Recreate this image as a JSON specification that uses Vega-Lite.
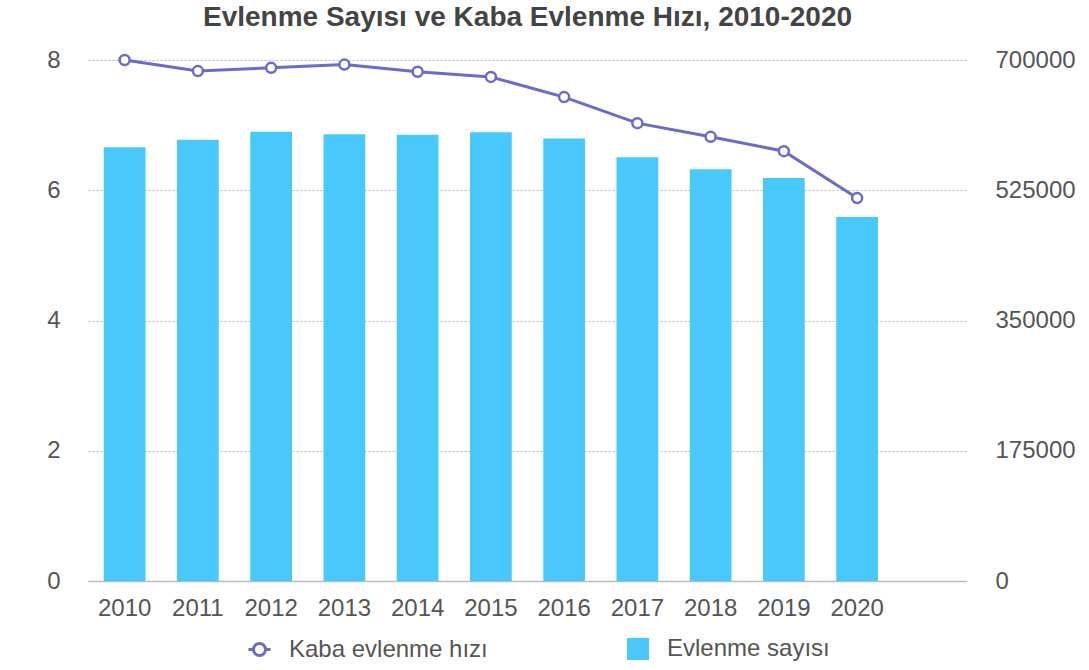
{
  "$schema": "https://vega.github.io/schema/vega-lite/v6.json",
  "width": 879,
  "height": 521,
  "autosize": {"type": "none"},
  "padding": {"left": 88, "top": 60, "right": 122, "bottom": 89},
  "background": "white",
  "config": {
    "font": "Liberation Sans",
    "view": {"stroke": null},
    "axis": {"labelFont": "Liberation Sans", "labelColor": "#555555", "labelFontSize": 24, "titleFontSize": 0}
  },
  "title": {
    "text": "Evlenme Sayısı ve Kaba Evlenme Hızı, 2010-2020",
    "font": "Liberation Sans",
    "fontSize": 28,
    "fontWeight": "bold",
    "color": "#444444",
    "anchor": "middle",
    "offset": 16
  },
  "data": {
    "values": [
      {"year": "2010", "rate": 8.00, "count": 582715},
      {"year": "2011", "rate": 7.83, "count": 592775},
      {"year": "2012", "rate": 7.88, "count": 603751},
      {"year": "2013", "rate": 7.93, "count": 600138},
      {"year": "2014", "rate": 7.82, "count": 599704},
      {"year": "2015", "rate": 7.74, "count": 602982},
      {"year": "2016", "rate": 7.43, "count": 594493},
      {"year": "2017", "rate": 7.03, "count": 569459},
      {"year": "2018", "rate": 6.82, "count": 553202},
      {"year": "2019", "rate": 6.60, "count": 541424},
      {"year": "2020", "rate": 5.88, "count": 488954}
    ]
  },
  "encoding": {
    "x": {
      "field": "year",
      "type": "nominal",
      "sort": null,
      "scale": {
        "domain": ["2010", "2011", "2012", "2013", "2014", "2015", "2016", "2017", "2018", "2019", "2020", " "],
        "paddingInner": 0.43,
        "paddingOuter": 0.215
      },
      "axis": {
        "title": null,
        "labelAngle": 0,
        "ticks": false,
        "tickSize": 0,
        "labelPadding": 15,
        "domain": true,
        "domainColor": "#bbbbbb",
        "domainWidth": 1.5,
        "grid": false
      }
    }
  },
  "layer": [
    {
      "mark": {"type": "bar"},
      "encoding": {
        "y": {
          "field": "count",
          "type": "quantitative",
          "scale": {"domain": [0, 700000], "nice": false},
          "axis": {
            "orient": "right",
            "title": null,
            "values": [0, 175000, 350000, 525000, 700000],
            "format": "d",
            "ticks": false,
            "tickSize": 0,
            "domain": false,
            "grid": false,
            "labelPadding": 28
          }
        },
        "fill": {
          "datum": "Evlenme sayısı",
          "type": "nominal",
          "scale": {"domain": ["Evlenme sayısı"], "range": ["#49c9fb"]},
          "legend": {
            "title": null,
            "orient": "none",
            "direction": "horizontal",
            "legendX": 538,
            "legendY": 577,
            "padding": 0,
            "labelFont": "Liberation Sans",
            "labelFontSize": 24,
            "labelColor": "#555555",
            "labelOffset": 17,
            "labelLimit": 400,
            "symbolType": "square",
            "symbolSize": 484,
            "symbolStrokeWidth": 0
          }
        }
      }
    },
    {
      "layer": [
        {
          "mark": {"type": "line", "strokeWidth": 3},
          "encoding": {
            "y": {
              "field": "rate",
              "type": "quantitative",
              "scale": {"domain": [0, 8], "nice": false},
              "axis": {
                "orient": "left",
                "title": null,
                "values": [0, 2, 4, 6, 8],
                "format": "d",
                "ticks": false,
                "tickSize": 0,
                "domain": false,
                "grid": true,
                "gridColor": "#b4b4b4",
                "gridDash": [2, 2],
                "gridWidth": 1,
                "labelPadding": 28
              }
            },
            "stroke": {
              "datum": "Kaba evlenme hızı",
              "type": "nominal",
              "scale": {"domain": ["Kaba evlenme hızı"], "range": ["#6b6bcb"]},
              "legend": {
                "title": null,
                "orient": "none",
                "direction": "horizontal",
                "legendX": 159,
                "legendY": 577,
                "padding": 0,
                "labelFont": "Liberation Sans",
                "labelFontSize": 24,
                "labelColor": "#555555",
                "labelOffset": 17,
                "labelLimit": 400,
                "symbolType": "M-1,0L-0.55,0M0.55,0L1,0M0.55,0A0.55,0.55,0,1,1,-0.55,0A0.55,0.55,0,1,1,0.55,0Z",
                "symbolSize": 484,
                "symbolStrokeWidth": 3,
                "symbolFillColor": "#ffffff",
                "symbolStrokeColor": "#6b6bcb"
              }
            }
          }
        },
        {
          "mark": {"type": "point", "filled": false, "fill": "#ffffff", "fillOpacity": 1, "opacity": 1, "strokeWidth": 2.5, "size": 100},
          "encoding": {
            "y": {"field": "rate", "type": "quantitative"},
            "stroke": {"datum": "Kaba evlenme hızı", "type": "nominal"}
          }
        }
      ]
    }
  ],
  "resolve": {"scale": {"y": "independent"}}
}
